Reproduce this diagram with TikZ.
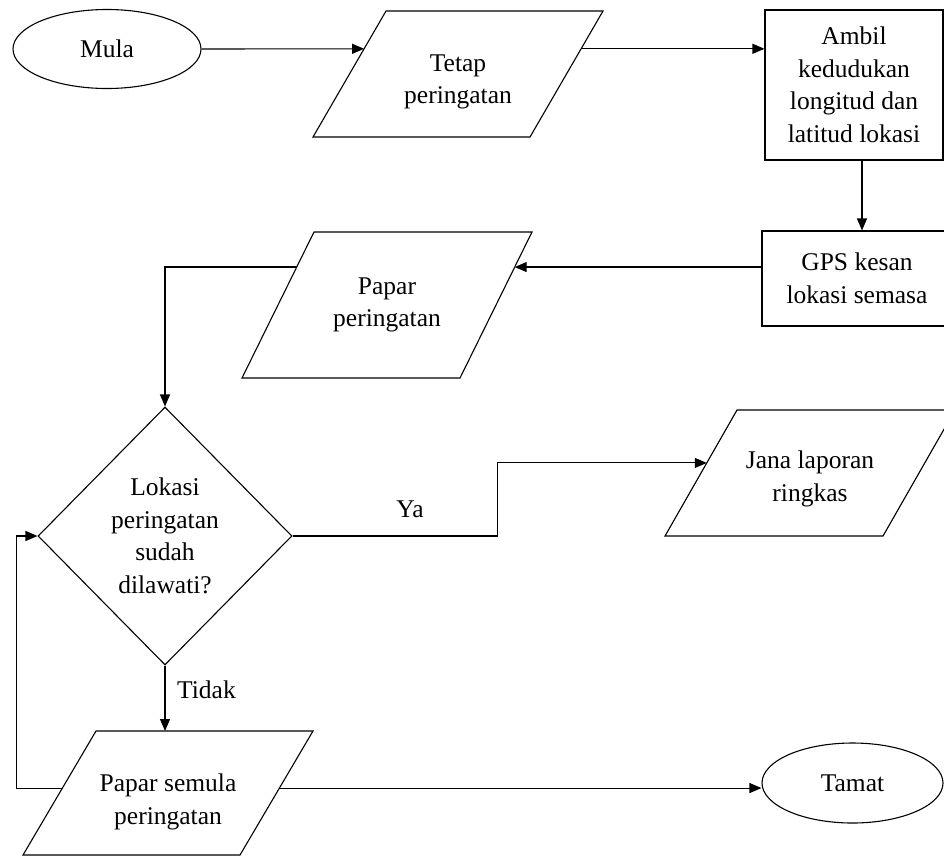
\documentclass[tikz,border=0pt]{standalone}
\usepackage{fontspec}
\setmainfont{Liberation Serif}
\usetikzlibrary{shapes.geometric,arrows.meta,calc}
% parallelogram (input/output): name, cx, cy, total width, height, slant offset, text dy, text
\newcommand{\ioshape}[8]{%
  \node[inner sep=0pt] (#1) at ({#2},{#3+#7}) {#8};
  \coordinate (#1-tl) at ({#2-#4/2+#6},{#3-#5/2});
  \coordinate (#1-tr) at ({#2+#4/2},{#3-#5/2});
  \coordinate (#1-br) at ({#2+#4/2-#6},{#3+#5/2});
  \coordinate (#1-bl) at ({#2-#4/2},{#3+#5/2});
  \draw[shp] (#1-tl) -- (#1-tr) -- (#1-br) -- (#1-bl) -- cycle;
}
\begin{document}
\begin{tikzpicture}[x=1pt,y=-1pt,
  every node/.style={font=\fontsize{25.5}{32.5}\selectfont, align=center, inner sep=0pt},
  shp/.style={draw=black, line width=1.1pt, line join=miter},
  term/.style={shp, ellipse},
  proc/.style={shp, rectangle},
  decis/.style={shp, diamond},
  arr/.style={line width=1.1pt, -{Triangle[length=12pt,width=10pt]}},
  lbl/.style={}
]
\useasboundingbox (0,0) rectangle (944,857);
\clip (0,0) rectangle (944,857);

\node[term, minimum width=188pt, minimum height=79pt] (mula) at (107,49) {Mula};
\ioshape{tetap}{458}{74}{290}{126}{73}{8}{Tetap\\peringatan}
\node[proc, minimum width=178pt, minimum height=150pt] (ambil) at (854,85) {Ambil\\kedudukan\\longitud dan\\latitud lokasi};
\node[proc, minimum width=190pt, minimum height=95pt] (gps) at (857,278.5) {GPS kesan\\lokasi semasa};
\ioshape{papar}{387}{305}{290}{146}{72}{0}{Papar\\peringatan}
\node[decis, minimum width=254pt, minimum height=258pt] (dec) at (165,536) {Lokasi\\peringatan\\sudah\\dilawati?};
\ioshape{jana}{810}{473}{290}{126}{72}{6}{Jana laporan\\ringkas}
\ioshape{semula}{168}{793}{290}{124}{73}{9}{Papar semula\\peringatan}
\node[term, minimum width=181pt, minimum height=80pt] (tamat) at (852.5,783) {Tamat};

\node[lbl, anchor=base] (ya) at (410,517) {Ya};
\node[lbl, anchor=base west] (tidak) at (177,698) {Tidak};

\coordinate (tL) at ($(tetap-tl)!0.30!(tetap-bl)$);
\coordinate (tR) at ($(tetap-tr)!0.30!(tetap-br)$);
\coordinate (pR) at ($(papar-tr)!0.24!(papar-br)$);
\coordinate (pL) at ($(papar-tl)!0.24!(papar-bl)$);
\coordinate (jL) at ($(jana-tl)!0.42!(jana-bl)$);
\coordinate (sL) at ($(semula-tl)!0.46!(semula-bl)$);
\coordinate (sR) at ($(semula-tr)!0.46!(semula-br)$);

\draw[arr] (mula.east) -- (tL);
\draw[arr] (tR) -- (tR -| ambil.west);
\draw[arr] ([xshift=8pt]ambil.south) -- ([xshift=8pt]ambil.south |- gps.north);
\draw[arr] (pR -| gps.west) -- (pR);
\draw[arr] (pL) -| (dec.north);
\draw[arr] (dec.east) -- ++(205,0) |- (jL);
\draw[arr] (dec.south) -- (dec.south |- semula-tl);
\draw[arr] (sL) -- ++(-46,0) |- (dec.west);
\draw[arr] (sR) -- (sR -| tamat.west);
\end{tikzpicture}
\end{document}
